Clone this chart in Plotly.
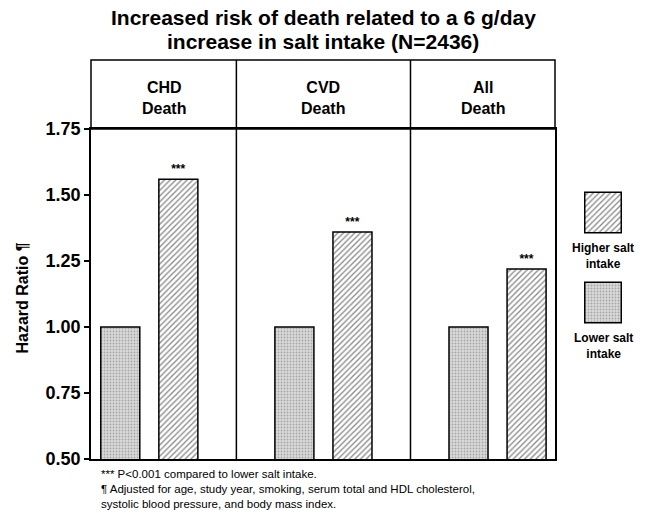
import plotly.graph_objects as go

# ---- data ----
panels = ["CHD<br>Death", "CVD<br>Death", "All<br>Death"]
lower_salt = [1.00, 1.00, 1.00]
higher_salt = [1.56, 1.36, 1.22]
significance = ["***", "***", "***"]
y_ticks = [0.50, 0.75, 1.00, 1.25, 1.50, 1.75]
series_names = ["Lower salt<br>intake", "Higher salt<br>intake"]
title_lines = ["Increased risk of death related to a 6 g/day",
               "increase in salt intake (N=2436)"]
y_title = "Hazard Ratio ¶"
footnotes = ["*** P<0.001 compared to lower salt intake.",
             "¶ Adjusted for age, study year, smoking, serum total and HDL cholesterol,",
             "systolic blood pressure, and body mass index."]

FONT = "Liberation Sans, Arial, sans-serif"
W, H = 656, 513
ML, MR, MT, MB = 91, 20, 129, 54
PW = W - ML - MR
PH = H - MT - MB
MAIN_RIGHT = (555 - ML) / PW
HEAD_TOP = 1 + (MT - 60) / PH
XMIN, XMAX = -0.335, 2.33

def px_x(p):
    return (p - ML) / PW

def px_y(p):
    return (H - MB - p) / PH

x_pos = list(range(len(panels)))

outline = dict(color="black", width=1.5)
low_marker = dict(color="#dadada", line=outline,
                  pattern=dict(shape=".", fgcolor="#707070", size=3, solidity=0.3, fillmode="overlay"))
high_marker = dict(color="white", line=outline,
                   pattern=dict(shape="/", fgcolor="#111111", size=4, solidity=0.33, fillmode="overlay"))

fig = go.Figure()
fig.add_bar(x=x_pos, y=lower_salt, name=series_names[0], marker=low_marker)
fig.add_bar(x=x_pos, y=higher_salt, name=series_names[1], marker=high_marker,
            text=significance, textposition="outside", cliponaxis=False,
            textfont=dict(family=FONT, size=12, color="black", weight="bold"))

# legend swatches on auxiliary axes
fig.add_bar(x=[0], y=[1], width=[1], xaxis="x2", yaxis="y2", marker=high_marker, showlegend=False)
fig.add_bar(x=[0], y=[1], width=[1], xaxis="x3", yaxis="y3", marker=low_marker, showlegend=False)

axis_common = dict(showline=True, mirror=True, linecolor="black", linewidth=1.5,
                   showgrid=False, zeroline=False)

fig.update_layout(
    width=W, height=H,
    margin=dict(l=ML, r=MR, t=MT, b=MB),
    paper_bgcolor="white", plot_bgcolor="white",
    showlegend=False,
    barmode="group", bargap=0.333, bargroupgap=0.328,
    font=dict(family=FONT, color="black"),
    xaxis=dict(domain=[0, MAIN_RIGHT], range=[XMIN, XMAX], showticklabels=False,
               ticks="", **axis_common),
    yaxis=dict(range=[0.5, 1.75], tickvals=y_ticks, tickformat=".2f",
               ticks="outside", ticklen=5, tickwidth=1.5, tickcolor="black",
               tickfont=dict(family=FONT, size=18, color="black", weight="bold"),
               **axis_common),
    xaxis2=dict(domain=[px_x(584), px_x(622)], range=[-0.52, 0.52], visible=False, anchor="y2"),
    yaxis2=dict(domain=[px_y(234), px_y(191)], range=[-0.03, 1.03], visible=False, anchor="x2"),
    xaxis3=dict(domain=[px_x(584), px_x(622)], range=[-0.52, 0.52], visible=False, anchor="y3"),
    yaxis3=dict(domain=[px_y(324), px_y(281)], range=[-0.03, 1.03], visible=False, anchor="x3"),
)

# header box and panel dividers
shapes = [dict(type="rect", xref="x domain", yref="paper", x0=0, x1=1, y0=1, y1=HEAD_TOP,
               line=dict(color="black", width=1.5), fillcolor="rgba(0,0,0,0)")]
bounds = [XMIN, 0.5, 1.5, XMAX]
for b in bounds[1:-1]:
    shapes.append(dict(type="line", xref="x", yref="paper", x0=b, x1=b, y0=0, y1=HEAD_TOP,
                       line=dict(color="black", width=1.5)))
fig.update_layout(shapes=shapes)

ann = []
for i, name in enumerate(panels):
    cx = (bounds[i] + bounds[i + 1]) / 2
    ann.append(dict(xref="x", yref="paper", x=cx, y=px_y(98), text=name,
                    showarrow=False, xanchor="center", yanchor="middle",
                    font=dict(family=FONT, size=16, color="black", weight="bold")))

title_x = px_x(323)
for line, yp in zip(title_lines, [18, 41]):
    ann.append(dict(xref="paper", yref="paper", x=title_x, y=px_y(yp), text=line,
                    showarrow=False, xanchor="center", yanchor="middle",
                    font=dict(family=FONT, size=21, color="black", weight="bold")))

ann.append(dict(xref="paper", yref="paper", x=px_x(21.5), y=px_y(298), text=y_title,
                textangle=-90, showarrow=False, xanchor="center", yanchor="middle",
                font=dict(family=FONT, size=16, color="black", weight="bold")))

ann.append(dict(xref="x2", yref="paper", x=0, y=px_y(256), text=series_names[1],
                showarrow=False, xanchor="center", yanchor="middle",
                font=dict(family=FONT, size=12, color="black", weight="bold")))
ann.append(dict(xref="x3", yref="paper", x=0, y=px_y(346), text=series_names[0],
                showarrow=False, xanchor="center", yanchor="middle",
                font=dict(family=FONT, size=12, color="black", weight="bold")))

ann.append(dict(xref="paper", yref="paper", x=px_x(99), y=px_y(466), text="<br>".join(footnotes),
                showarrow=False, xanchor="left", yanchor="top", align="left",
                font=dict(family=FONT, size=11.5, color="black")))

fig.update_layout(annotations=ann)
fig.write_html("out.html", config={"displayModeBar": False},
               post_script="document.body.style.margin='0px';")
